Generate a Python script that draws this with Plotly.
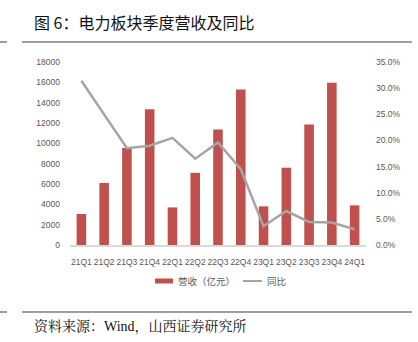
import plotly.graph_objects as go

quarters = ["21Q1", "21Q2", "21Q3", "21Q4", "22Q1", "22Q2", "22Q3",
            "22Q4", "23Q1", "23Q2", "23Q3", "23Q4", "24Q1"]
revenue = [3050, 6100, 9550, 13350, 3700, 7100, 11350,
           15300, 3800, 7600, 11850, 15950, 3900]
yoy = [0.314, 0.250, 0.185, 0.190, 0.205, 0.165, 0.196,
       0.145, 0.036, 0.065, 0.044, 0.043, 0.030]

W, H = 418, 342
L, R, T, B = 70, 52, 62, 97
pw, ph = W - L - R, H - T - B

BAR_COLOR = "#C0504D"
LINE_COLOR = "#A5A5A5"


def px(x):
    return (x - L) / pw


def py(y):
    return (H - B - y) / ph


tick_font = dict(family="Liberation Sans, Arial, sans-serif", size=8.5, color="#595959")

fig = go.Figure()
fig.add_trace(go.Bar(
    x=quarters, y=revenue, name="营收（亿元）",
    marker=dict(color=BAR_COLOR, line=dict(width=0)),
    width=0.42,
))
fig.add_trace(go.Scatter(
    x=quarters, y=yoy, name="同比", yaxis="y2", mode="lines",
    line=dict(color=LINE_COLOR, width=2.5),
))

fig.update_layout(
    width=W, height=H,
    margin=dict(l=L, r=R, t=T, b=B),
    paper_bgcolor="white", plot_bgcolor="white",
    showlegend=False,
    xaxis=dict(showgrid=False, showline=True, linecolor="#D9D9D9", linewidth=1.5,
               ticks="", tickfont=tick_font, tickangle=0, ticklabelstandoff=8),
    yaxis=dict(range=[0, 18000], dtick=2000, tickformat="d", showgrid=False,
               zeroline=False, showline=False, ticks="", tickfont=tick_font,
               ticklabelstandoff=9),
    yaxis2=dict(range=[0, 0.35], dtick=0.05, tickformat=".1%", overlaying="y",
                side="right", showgrid=False, zeroline=False, showline=False,
                ticks="", tickfont=tick_font, ticklabelstandoff=9),
)

# custom legend: wide bar swatch and line swatch
legend_font = dict(family="Noto Sans CJK SC", size=9.5, color="#595959")
fig.add_shape(type="rect", xref="paper", yref="paper",
              x0=px(155), x1=px(173), y0=py(283.5), y1=py(278.5),
              fillcolor=BAR_COLOR, line=dict(width=0))
fig.add_annotation(text="营收（亿元）", xref="paper", yref="paper",
                   x=px(176), y=py(281), xanchor="left", yanchor="middle",
                   showarrow=False, font=legend_font)
fig.add_shape(type="line", xref="paper", yref="paper",
              x0=px(243), x1=px(262), y0=py(281), y1=py(281),
              line=dict(color=LINE_COLOR, width=2))
fig.add_annotation(text="同比", xref="paper", yref="paper",
                   x=px(265), y=py(281), xanchor="left", yanchor="middle",
                   showarrow=False, font=legend_font)

fig.add_annotation(
    text="图 6：电力板块季度营收及同比", xref="paper", yref="paper",
    x=px(32), y=py(22), xanchor="left", yanchor="middle", showarrow=False,
    font=dict(family="Noto Sans CJK SC", size=16, color="#111111"),
)
fig.add_annotation(
    text="资料来源：Wind，山西证券研究所", xref="paper", yref="paper",
    x=px(32), y=py(326), xanchor="left", yanchor="middle", showarrow=False,
    font=dict(family="Liberation Serif, Noto Serif CJK SC, Noto Sans CJK SC", size=14, color="#111111"),
)

rule = dict(color="#7F7F7F", width=1.5)
for yy in (42, 312):
    fig.add_shape(type="line", xref="paper", yref="paper",
                  x0=px(22), x1=px(412), y0=py(yy), y1=py(yy), line=rule)
    fig.add_shape(type="line", xref="paper", yref="paper",
                  x0=px(0), x1=px(7), y0=py(yy), y1=py(yy), line=rule)

fig.write_html("out.html")
